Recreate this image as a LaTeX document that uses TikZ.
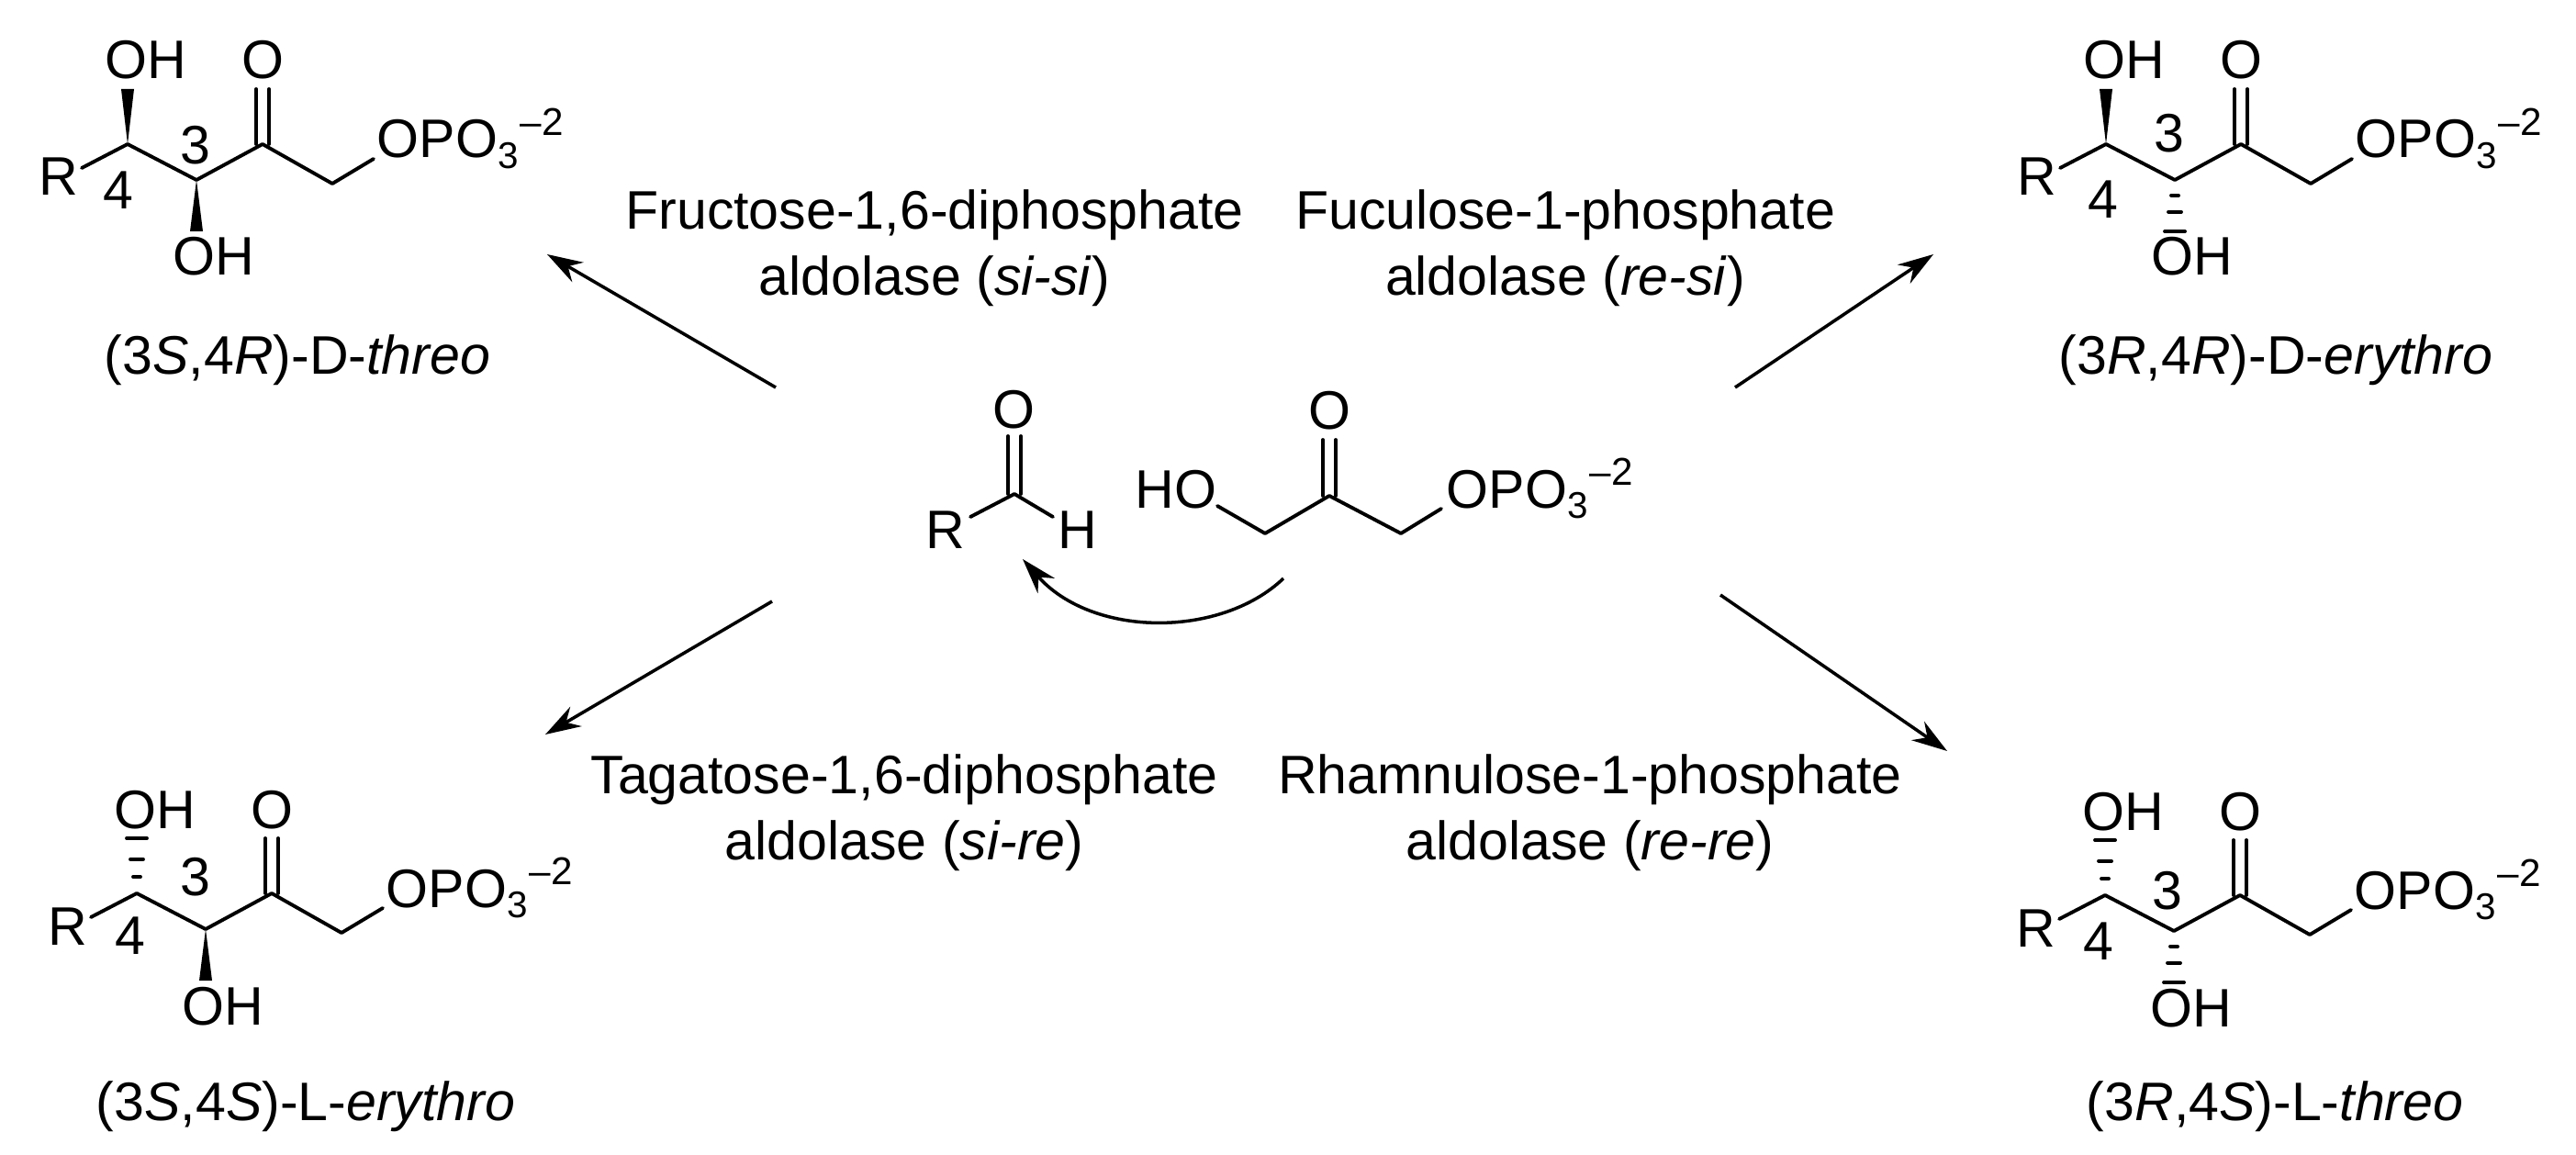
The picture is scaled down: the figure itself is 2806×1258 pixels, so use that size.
\documentclass[tikz,border=0pt]{standalone}
\usepackage{fontspec}
\setmainfont{Liberation Sans}
\usetikzlibrary{arrows.meta,calc}
\newcommand\wedgebond[2]{\fill (#1)--($(#2)+(-7,0)$)--($(#2)+(7,0)$)--cycle;}
\newcommand\hashbond[2]{\foreach \t/\w in {0.3/4,0.62/7,1/11}
	{\draw ($(#1)!\t!(#2)+(-\w,0)$)--($(#1)!\t!(#2)+(\w,0)$);}}
\newcommand\phosphate{OPO\raisebox{-3.2pt}{\fontsize{11.5}{11.5}\selectfont 3}\kern0.6pt\raisebox{7pt}{\fontsize{12}{12}\selectfont –2}}
\tikzset{
	atom/.style={inner sep=0pt,anchor=base west},
	enzyme/.style={inner sep=0pt,align=center},
	bond/.style={line width=1.1pt,line cap=round,line join=round},
	step arrow/.style={line width=1pt,->},
}
\begin{document}
\begin{tikzpicture}[x=0.01cm, y=-0.01cm, font=\fontsize{16.8}{20.6}\selectfont, >={Stealth[length=11pt,width=7pt]}]
	\useasboundingbox (0,0) rectangle (2806,1258);
	% four products
	\foreach \mol/\dx/\dy/\thx/\thy/\fox/\foy/\upkind/\dnkind/\capx/\capy/\captext in {
		tl/0/0/74/1/-10/50/\wedgebond/\wedgebond/324/408/{(3\textit{S},4\textit{R})-D-\textit{threo}},
		tr/2155/0/69/-12/-3/60/\wedgebond/\hashbond/2479/408/{(3\textit{R},4\textit{R})-D-\textit{erythro}},
		bl/10/816/64/-18/-7/46/\hashbond/\wedgebond/333/1220/{(3\textit{S},4\textit{S})-L-\textit{erythro}},
		br/2154/818/68/-5/-7/50/\hashbond/\hashbond/2478/1220/{(3\textit{R},4\textit{S})-L-\textit{threo}}}
	{
		\begin{scope}[shift={(\dx,\dy)}]
			\path
			(139,157) coordinate (\mol-c4)
			(214,196) coordinate (\mol-c3)
			(286,157) coordinate (\mol-c2)
			(362,200) coordinate (\mol-c1)
			(407,173) coordinate (\mol-oe)
			(89,183) coordinate (\mol-re)
			(139,97) coordinate (\mol-up)
			(214,252) coordinate (\mol-dn)
			(286,97) coordinate (\mol-ob)
			;
			\node[atom] (\mol-r) at (42,213) {R};
			\node[atom] (\mol-oh) at (114,86) {OH};
			\node[inner sep=0pt,anchor=base] (\mol-o) at (286,86) {O};
			\node[atom] (\mol-hd) at (188,300) {OH};
			\node[atom] (\mol-p) at (410,172) {\phosphate};
			\node[inner sep=0pt] (\mol-n3) at ($(\mol-c4)+(\thx,\thy)$) {3};
			\node[inner sep=0pt] (\mol-n4) at ($(\mol-c4)+(\fox,\foy)$) {4};
			\draw[bond] (\mol-re)--(\mol-c4)--(\mol-c3)--(\mol-c2)--(\mol-c1)--(\mol-oe);
			\draw[bond] ($(\mol-c2)+(-7,0)$)--($(\mol-ob)+(-7,0)$) ($(\mol-c2)+(7,0)$)--($(\mol-ob)+(7,0)$);
			\begin{scope}[bond]
				\upkind{\mol-c4}{\mol-up}
				\dnkind{\mol-c3}{\mol-dn}
			\end{scope}
		\end{scope}
		\node[inner sep=0pt,anchor=base] (\mol-cap) at (\capx,\capy) {\captext};
	}
	% aldehyde
	\path
	(1105,538) coordinate (ald-c)
	(1057,563) coordinate (ald-re)
	(1147,563) coordinate (ald-he)
	(1105,475) coordinate (ald-ob)
	;
	\node[atom] (ald-r) at (1008,597) {R};
	\node[atom] (ald-h) at (1152,597) {H};
	\node[inner sep=0pt,anchor=base] (ald-o) at (1104,466) {O};
	\draw[bond] (ald-re)--(ald-c)--(ald-he);
	\draw[bond] ($(ald-c)+(-7,0)$)--($(ald-ob)+(-7,0)$) ($(ald-c)+(7,0)$)--($(ald-ob)+(7,0)$);
	% dihydroxyacetone phosphate
	\path
	(1326,551) coordinate (dhap-he)
	(1378,581) coordinate (dhap-c3)
	(1448,540) coordinate (dhap-c2)
	(1526,581) coordinate (dhap-c1)
	(1570,554) coordinate (dhap-oe)
	(1448,479) coordinate (dhap-ob)
	;
	\node[atom] (dhap-ho) at (1236,553) {HO};
	\node[inner sep=0pt,anchor=base] (dhap-o) at (1448,468) {O};
	\node[atom] (dhap-p) at (1575,553) {\phosphate};
	\draw[bond] (dhap-he)--(dhap-c3)--(dhap-c2)--(dhap-c1)--(dhap-oe);
	\draw[bond] ($(dhap-c2)+(-7,0)$)--($(dhap-ob)+(-7,0)$) ($(dhap-c2)+(7,0)$)--($(dhap-ob)+(7,0)$);
	% arrows
	\path
	(845,422) coordinate (tl-tail)
	(596,277) coordinate (tl-tip)
	(1890,422) coordinate (tr-tail)
	(2106,277) coordinate (tr-tip)
	(841,655) coordinate (bl-tail)
	(594,800) coordinate (bl-tip)
	(1874,648) coordinate (br-tail)
	(2121,818) coordinate (br-tip)
	(1398,630) coordinate (cv-tail)
	(1114,609) coordinate (cv-tip)
	;
	\foreach \d in {tl,tr,bl,br}
		{\draw[step arrow] (\d-tail)--(\d-tip);}
	\draw[step arrow] (cv-tail) .. controls (1330,695) and (1190,695) .. (cv-tip);
	% enzymes
	\node[enzyme] (fru) at (1018,270) {Fructose-1,6-diphosphate\\aldolase (\textit{si-si})};
	\node[enzyme] (fuc) at (1705,270) {Fuculose-1-phosphate\\aldolase (\textit{re-si})};
	\node[enzyme] (tag) at (985,885) {Tagatose-1,6-diphosphate\\aldolase (\textit{si-re})};
	\node[enzyme] (rha) at (1732,885) {Rhamnulose-1-phosphate\\aldolase (\textit{re-re})};
\end{tikzpicture}
\end{document}
